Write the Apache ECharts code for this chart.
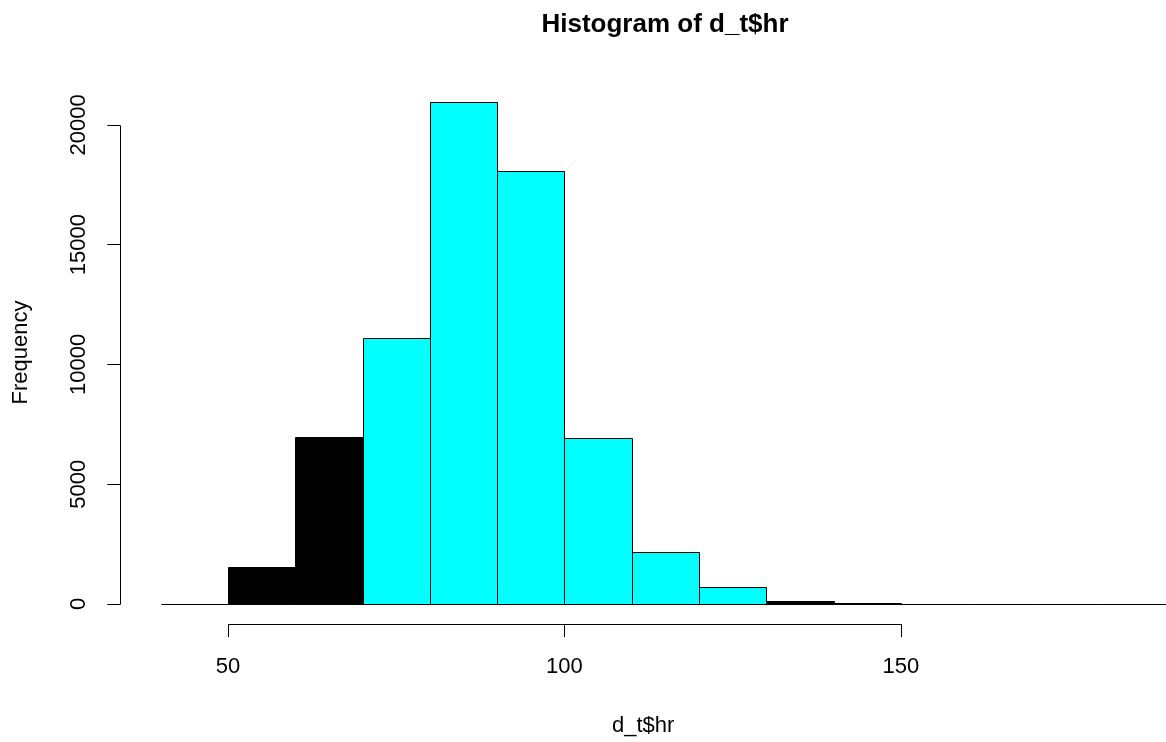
<!DOCTYPE html>
<html>
<head>
<meta charset="utf-8">
<script src="https://cdn.jsdelivr.net/npm/echarts@6/dist/echarts.min.js"></script>
<style>html,body{margin:0;padding:0;background:#fff}#c{width:1166px;height:742px}</style>
</head>
<body>
<div id="c"></div>
<script>
// Histogram bins (left edges, width 10) and frequencies
const binStarts = [40, 50, 60, 70, 80, 90, 100, 110, 120, 130, 140, 150, 160, 170, 180];
const binWidth = 10;
const counts    = [0, 1530, 6980, 11110, 20960, 18080, 6930, 2170, 710, 140, 45, 0, 0, 0, 0];
const binColors = ['#000000', '#000000', '#000000', '#00FFFF', '#00FFFF', '#00FFFF', '#00FFFF', '#00FFFF', '#00FFFF', '#000000', '#000000', '#000000', '#000000', '#000000', '#000000'];
const xTicks = [50, 100, 150];
const yTicks = [0, 5000, 10000, 15000, 20000];
const xRange = [34, 189.4];   // visible part (plot is cut at the right edge)
const yRange = [-840, 21840];

const FONT = 'Liberation Sans, Arial, sans-serif';
const chart = echarts.init(document.getElementById('c'), null, {renderer: 'canvas'});

const barData = binStarts.map((s, i) => [s, s + binWidth, counts[i], i]);

function crisp(v) { return Math.round(v) + 0.5; }

chart.setOption({
  animation: false,
  graphic: [{
    type: 'text', x: 665, y: 25,
    style: {text: 'Histogram of d_t$hr', font: 'bold 26px ' + FONT, fill: '#000', textAlign: 'center', textVerticalAlign: 'middle'}
  }],
  grid: {left: 120.3, top: 80.9, right: 0, height: 543.2, containLabel: false, outerBoundsMode: 'none'},
  xAxis: {
    type: 'value', min: xRange[0], max: xRange[1],
    name: 'd_t$hr', nameLocation: 'middle', nameGap: 91,
    nameTextStyle: {fontFamily: FONT, fontSize: 22, color: '#000'},
    axisLine: {show: false, onZero: false},
    axisTick: {show: true, length: 13, customValues: xTicks, lineStyle: {color: '#000', width: 1}},
    axisLabel: {customValues: xTicks, margin: 32, fontFamily: FONT, fontSize: 22, color: '#000', formatter: v => String(v)},
    splitLine: {show: false}
  },
  yAxis: {
    type: 'value', min: yRange[0], max: yRange[1],
    name: 'Frequency', nameLocation: 'middle', nameGap: 88,
    nameTextStyle: {fontFamily: FONT, fontSize: 22, color: '#000'},
    axisLine: {show: false, onZero: false},
    axisTick: {show: true, length: 13, customValues: yTicks, lineStyle: {color: '#000', width: 1}},
    axisLabel: {customValues: yTicks, rotate: 90, margin: 30, fontFamily: FONT, fontSize: 22, color: '#000', formatter: v => String(v)},
    splitLine: {show: false}
  },
  series: [
    {
      type: 'custom', silent: true, clip: false,
      data: barData,
      encode: {x: [0, 1], y: 2},
      renderItem: function (params, api) {
        const p0 = api.coord([api.value(0), api.value(2)]);
        const p1 = api.coord([api.value(1), 0]);
        const x0 = crisp(p0[0]), x1 = crisp(p1[0]);
        const y0 = crisp(p0[1]), y1 = crisp(p1[1]);
        return {
          type: 'rect',
          shape: {x: x0, y: y0, width: x1 - x0, height: y1 - y0},
          style: {fill: binColors[api.value(3)], stroke: '#000', lineWidth: 1}
        };
      }
    },
    {
      // axis lines spanning only from first to last tick (R style)
      type: 'custom', silent: true, clip: false,
      data: [[0]],
      renderItem: function (params, api) {
        const a = api.coord([xTicks[0], yRange[0]]);
        const b = api.coord([xTicks[xTicks.length - 1], yRange[0]]);
        const c = api.coord([xRange[0], yTicks[0]]);
        const d = api.coord([xRange[0], yTicks[yTicks.length - 1]]);
        return {
          type: 'group',
          children: [
            {type: 'line', shape: {x1: crisp(a[0]), y1: crisp(a[1]), x2: crisp(b[0]), y2: crisp(b[1])}, style: {stroke: '#000', lineWidth: 1}},
            {type: 'line', shape: {x1: crisp(c[0]), y1: crisp(c[1]), x2: crisp(d[0]), y2: crisp(d[1])}, style: {stroke: '#000', lineWidth: 1}}
          ]
        };
      }
    }
  ]
});
</script>
</body>
</html>
